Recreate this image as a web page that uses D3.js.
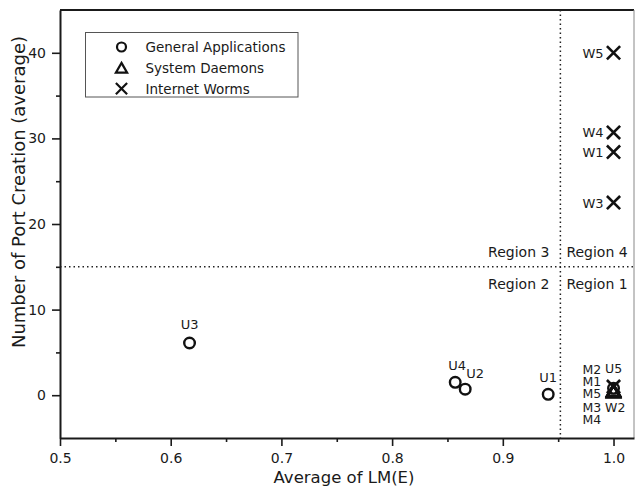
<!DOCTYPE html>
<html>
<head>
<meta charset="utf-8">
<script src="https://cdn.jsdelivr.net/npm/d3@7"></script>
<style>
body { margin: 0; background: #fff; }
text { font-family: "DejaVu Sans", Verdana, sans-serif; fill: #1a1a1a; }
.axis path, .axis line { stroke: #1a1a1a; }
.axis text { font-size: 14px; }
</style>
</head>
<body>
<svg id="chart" width="635" height="488"></svg>
<script>
// legend categories
const categories = ["General Applications", "System Daemons", "Internet Worms"];

// general applications
const appNames = ["U1", "U2", "U3", "U4", "U5"];
const appLM = [0.941, 0.866, 0.617, 0.857, 1.0];
const appPorts = [0.1, 0.7, 6.1, 1.5, 0.8];

// system daemons
const daemonNames = ["M1", "M2", "M3", "M4", "M5"];
const daemonLM = [1.0, 1.0, 1.0, 1.0, 1.0];
const daemonPorts = [0.6, 0.5, 0.45, 0.4, 0.55];

// internet worms
const wormNames = ["W1", "W2", "W3", "W4", "W5"];
const wormLM = [1.0, 1.0, 1.0, 1.0, 1.0];
const wormPorts = [28.4, 1.0, 22.5, 30.7, 40];

const xTicks = [0.5, 0.6, 0.7, 0.8, 0.9, 1.0];
const xMinorTicks = [0.55, 0.65, 0.75, 0.85, 0.95];
const yTicks = [0, 10, 20, 30, 40];
const yMinorTicks = [5, 15, 25, 35];

const lmThreshold = 0.952;
const portThreshold = 15;
const regionNames = ["Region 1", "Region 2", "Region 3", "Region 4"];

// label placement relative to each point: [dx, dy, anchor]
const labelOffsets = {
    U1: [0, -12, "middle"], U2: [1, -11, "start"], U3: [0, -14, "middle"],
    U4: [2, -12, "middle"], U5: [-8.5, -14.9, "start"],
    M1: [-31, -4.1, "start"], M2: [-31, -17.4, "start"], M3: [-31, 20.7, "start"],
    M4: [-31, 32.7, "start"], M5: [-31, 8, "start"],
    W1: [-10, 5, "end"], W2: [-8.5, 25.4, "start"], W3: [-10, 5, "end"],
    W4: [-10, 5, "end"], W5: [-10, 5, "end"]
};
const clusterNames = ["M1", "M2", "M3", "M4", "M5", "U5", "W2"];

const svg = d3.select("#chart");
const x = d3.scaleLinear().domain([0.5, 1.0185]).range([60, 634]);
const y = d3.scaleLinear().domain([-5, 45]).range([438, 10]);

function zip(names, xs, ys, kind) {
    return names.map((n, i) => ({name: n, lm: xs[i], ports: ys[i], kind: kind}));
}
const points = [].concat(
    zip(appNames, appLM, appPorts, 0),
    zip(daemonNames, daemonLM, daemonPorts, 1),
    zip(wormNames, wormLM, wormPorts, 2)
);

// marker paths
function markerPath(kind, s) {
    if (kind === 0) {
        const r = 5.3 * s;
        return `M${r},0A${r},${r} 0 1,1 ${-r},0A${r},${r} 0 1,1 ${r},0Z`;
    }
    if (kind === 1) {
        const h = 11.5 * s, w = 6.6 * s;
        return `M0,${-h / 2}L${w},${h / 2}L${-w},${h / 2}Z`;
    }
    const a = 6.6 * s;
    return `M${-a},${-a}L${a},${a}M${-a},${a}L${a},${-a}`;
}

// frame: top and right edges
svg.append("line").attr("x1", x.range()[0]).attr("x2", x.range()[1])
    .attr("y1", y.range()[1]).attr("y2", y.range()[1])
    .attr("stroke", "#1a1a1a").attr("stroke-width", 2);
svg.append("line").attr("x1", x.range()[1]).attr("x2", x.range()[1])
    .attr("y1", y.range()[1]).attr("y2", y.range()[0])
    .attr("stroke", "#888").attr("stroke-width", 1);

// threshold lines
svg.append("line").attr("x1", x(lmThreshold)).attr("x2", x(lmThreshold))
    .attr("y1", y.range()[1]).attr("y2", y.range()[0])
    .attr("stroke", "#222").attr("stroke-width", 1.5).attr("stroke-dasharray", "1.5,3");
svg.append("line").attr("x1", x.range()[0]).attr("x2", x.range()[1])
    .attr("y1", y(portThreshold)).attr("y2", y(portThreshold))
    .attr("stroke", "#222").attr("stroke-width", 1.5).attr("stroke-dasharray", "1.5,3");

// axes
svg.append("g").attr("class", "axis")
    .attr("transform", `translate(0,${y.range()[0]})`)
    .call(d3.axisBottom(x).tickValues(xTicks).tickFormat(d3.format(".1f"))
        .tickSize(8).tickSizeOuter(0).tickPadding(7));
svg.append("g").attr("class", "axis")
    .attr("transform", `translate(0,${y.range()[0]})`)
    .call(d3.axisBottom(x).tickValues(xMinorTicks).tickFormat("").tickSize(4).tickSizeOuter(0))
    .select(".domain").remove();
svg.append("g").attr("class", "axis")
    .attr("transform", `translate(${x.range()[0]},0)`)
    .call(d3.axisLeft(y).tickValues(yTicks).tickSize(8).tickSizeOuter(0).tickPadding(6));
svg.append("g").attr("class", "axis")
    .attr("transform", `translate(${x.range()[0]},0)`)
    .call(d3.axisLeft(y).tickValues(yMinorTicks).tickFormat("").tickSize(4).tickSizeOuter(0))
    .select(".domain").remove();
svg.selectAll(".axis .domain").attr("stroke-width", 2);
svg.selectAll(".axis .tick line").attr("stroke-width", 1.6);
svg.selectAll(".axis text").attr("fill", "#1a1a1a");

// axis titles
svg.append("text").attr("x", 344).attr("y", 483)
    .attr("text-anchor", "middle").style("font-size", "16.5px").text("Average of LM(E)");
svg.append("text").attr("transform", "translate(25,192) rotate(-90)")
    .attr("text-anchor", "middle").style("font-size", "18px")
    .text("Number of Port Creation (average)");

// region labels
const xr = x(lmThreshold), yr = y(portThreshold);
const regionPos = [[xr + 6, yr + 22, "start"], [xr - 11, yr + 22, "end"],
                   [xr - 11, yr - 10, "end"], [xr + 6, yr - 10, "start"]];
svg.selectAll(".region").data(regionNames).enter().append("text")
    .attr("class", "region")
    .attr("x", (d, i) => regionPos[i][0]).attr("y", (d, i) => regionPos[i][1])
    .attr("text-anchor", (d, i) => regionPos[i][2])
    .style("font-size", "14px").text(d => d);

// points (draw daemons, then apps, then worms on top)
const order = [1, 0, 2];
const sorted = points.slice().sort((a, b) => order.indexOf(a.kind) - order.indexOf(b.kind));
svg.selectAll(".pt").data(sorted).enter().append("path")
    .attr("class", "pt")
    .attr("transform", d => `translate(${x(d.lm)},${y(d.ports)})`)
    .attr("d", d => markerPath(d.kind, 1))
    .attr("fill", "none").attr("stroke", "#111")
    .attr("stroke-width", d => d.kind === 2 ? 2.6 : 2.4);

// point labels (the crowded group at 1.0 uses a slightly smaller size)
svg.selectAll(".lbl").data(points).enter().append("text")
    .attr("class", "lbl")
    .attr("x", d => x(d.lm) + labelOffsets[d.name][0])
    .attr("y", d => y(d.ports) + labelOffsets[d.name][1])
    .attr("text-anchor", d => labelOffsets[d.name][2])
    .style("font-size", d => clusterNames.includes(d.name) ? "12.5px" : "13px")
    .text(d => d.name);

// legend
const legend = svg.append("g").attr("transform", "translate(85.5,32.5)");
legend.append("rect").attr("width", 212.5).attr("height", 64.5)
    .attr("fill", "#fff").attr("stroke", "#555").attr("stroke-width", 1);
const rows = legend.selectAll(".row").data(categories).enter().append("g")
    .attr("transform", (d, i) => `translate(0,${14.5 + i * 20.8})`);
rows.append("path").attr("transform", "translate(36,0)")
    .attr("d", (d, i) => markerPath(i, 0.85))
    .attr("fill", "none").attr("stroke", "#111").attr("stroke-width", 2.2);
rows.append("text").attr("x", 60).attr("y", 5)
    .style("font-size", "13.5px").text(d => d);
</script>
</body>
</html>
